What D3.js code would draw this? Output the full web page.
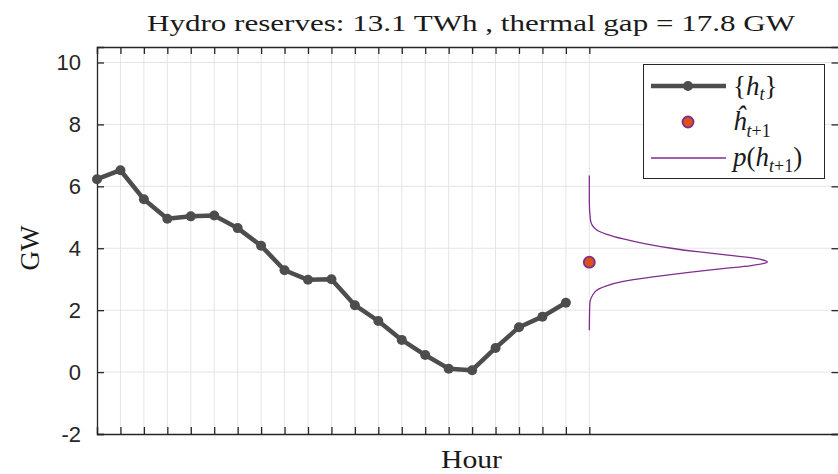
<!DOCTYPE html>
<html lang="en">
<head>
<meta charset="utf-8">
<title>Hydro reserves</title>
<style>
body { margin: 0; background: #fff; }
.grid line { stroke: #e5e5e5; stroke-width: 1px; }
.tick-label { font-family: "Liberation Sans", Arial, sans-serif; font-size: 22px; fill: #262626; }
.serif { font-family: "Liberation Serif", "DejaVu Serif", serif; fill: #1a1a1a; }
</style>
</head>
<body>
<div id="chart"></div>
<script src="https://d3js.org/d3.v7.min.js"></script>
<script>

// series
const hours = d3.range(0, 21);
const hydro = [6.23, 6.52, 5.58, 4.95, 5.03, 5.06, 4.65, 4.08, 3.29, 2.98, 3.0,
               2.16, 1.65, 1.04, 0.55, 0.11, 0.06, 0.78, 1.45, 1.79, 2.24];
const predHour = 21;
const predValue = 3.55;
// density curve: GW level and its horizontal extent (in hours) from the baseline
const densGW  = [6.35, 5.5, 4.9, 4.6, 4.45, 4.3, 4.15, 4.0, 3.88, 3.78, 3.68, 3.6, 3.56,
                 3.52, 3.44, 3.34, 3.22, 3.08, 2.93, 2.78, 2.6, 2.2, 1.35];
const densVal = [0, 0, 0.05, 0.3, 0.75, 1.45, 2.35, 3.5, 4.7, 5.9, 7.0, 7.5, 7.6,
                 7.5, 6.9, 5.7, 4.25, 2.8, 1.45, 0.7, 0.25, 0.02, 0];
const yTicks = [-2, 0, 2, 4, 6, 8, 10];
const xTicks = d3.range(0, 22);

const width = 838, height = 474;
const margin = { top: 47, right: -1, bottom: 40, left: 97 };

const svg = d3.select("#chart").append("svg")
    .attr("width", width).attr("height", height);

const x = d3.scaleLinear().domain([0, 31.65]).range([margin.left, width - margin.right]);
const y = d3.scaleLinear().domain([-2, 10.5]).range([height - margin.bottom, margin.top]);

// grid
const grid = svg.append("g").attr("class", "grid");
grid.selectAll(".gx").data(xTicks.slice(1)).enter().append("line")
    .attr("x1", d => x(d)).attr("x2", d => x(d))
    .attr("y1", y(-2)).attr("y2", y(10.5));
grid.selectAll(".gy").data(yTicks.slice(1)).enter().append("line")
    .attr("x1", x(0)).attr("x2", x(31.65))
    .attr("y1", d => y(d)).attr("y2", d => y(d));

// axes
const axisColor = "#262626";
const axB = svg.append("g").attr("transform", "translate(0," + y(-2) + ")")
    .call(d3.axisBottom(x).tickValues(xTicks).tickSize(-7).tickFormat(""));
const axT = svg.append("g").attr("transform", "translate(0," + y(10.5) + ")")
    .call(d3.axisTop(x).tickValues(xTicks).tickSize(-7).tickFormat(""));
const axL = svg.append("g").attr("transform", "translate(" + x(0) + ",0)")
    .call(d3.axisLeft(y).tickValues(yTicks).tickSize(-7).tickFormat(""));
const axR = svg.append("g").attr("transform", "translate(" + (x(31.65) - 0.5) + ",0)")
    .call(d3.axisRight(y).tickValues(yTicks).tickSize(-7).tickFormat(""));
[axB, axT, axL, axR].forEach(g => {
  g.select(".domain").attr("stroke", axisColor).attr("stroke-width", 1.3);
  g.selectAll(".tick line").attr("stroke", axisColor).attr("stroke-width", 1.3);
});

svg.selectAll(".ylab").data(yTicks).enter().append("text")
    .attr("class", "tick-label")
    .attr("x", 81).attr("y", d => y(d) + 8)
    .attr("text-anchor", "end")
    .text(d => d);

// density
const dens = d3.line()
    .x((d, i) => x(predHour + densVal[i]))
    .y(d => y(d))
    .curve(d3.curveMonotoneY);
svg.append("path").datum(densGW)
    .attr("d", dens)
    .attr("fill", "none")
    .attr("stroke", "#7e2f8e")
    .attr("stroke-width", 1.3);

// series
const line = d3.line().x((d, i) => x(hours[i])).y(d => y(d));
svg.append("path").datum(hydro)
    .attr("d", line)
    .attr("fill", "none")
    .attr("stroke", "#4d4d4d")
    .attr("stroke-width", 4.5)
    .attr("stroke-linejoin", "round");
svg.selectAll(".pt").data(hydro).enter().append("circle")
    .attr("cx", (d, i) => x(hours[i])).attr("cy", d => y(d))
    .attr("r", 5).attr("fill", "#4d4d4d");

svg.append("circle")
    .attr("cx", x(predHour)).attr("cy", y(predValue))
    .attr("r", 5.5).attr("fill", "#d95319")
    .attr("stroke", "#7e2f8e").attr("stroke-width", 1.8);

// labels
svg.append("text").attr("class", "serif")
    .attr("x", 147).attr("y", 31)
    .attr("font-size", 24)
    .attr("textLength", 648).attr("lengthAdjust", "spacingAndGlyphs")
    .text("Hydro reserves: 13.1 TWh , thermal gap = 17.8 GW");
svg.append("text").attr("class", "serif")
    .attr("x", 441).attr("y", 468)
    .attr("font-size", 26)
    .attr("textLength", 61).attr("lengthAdjust", "spacingAndGlyphs")
    .text("Hour");
svg.append("text").attr("class", "serif")
    .attr("transform", "translate(39,248) rotate(-90)")
    .attr("text-anchor", "middle")
    .attr("font-size", 27)
    .text("GW");

// legend
const lg = svg.append("g");
lg.append("rect").attr("x", 643.5).attr("y", 64.5).attr("width", 181).attr("height", 114)
    .attr("fill", "#fff").attr("stroke", "#262626").attr("stroke-width", 1);
lg.append("line").attr("x1", 651).attr("x2", 726).attr("y1", 86).attr("y2", 86)
    .attr("stroke", "#4d4d4d").attr("stroke-width", 4.5);
lg.append("circle").attr("cx", 688).attr("cy", 86).attr("r", 5).attr("fill", "#4d4d4d");
lg.append("circle").attr("cx", 688).attr("cy", 122).attr("r", 5.5).attr("fill", "#d95319")
    .attr("stroke", "#7e2f8e").attr("stroke-width", 1.8);
lg.append("line").attr("x1", 651).attr("x2", 726).attr("y1", 158).attr("y2", 158)
    .attr("stroke", "#7e2f8e").attr("stroke-width", 1.3);

// parts: t = text, it = italic, sz = font size, dy = baseline shift
function mathText(yPos, parts) {
  const t = lg.append("text").attr("class", "serif").attr("x", 733).attr("y", yPos)
      .attr("font-size", 27);
  parts.forEach(p => {
    const s = t.append("tspan").text(p.t);
    if (p.it) s.attr("font-style", "italic");
    if (p.sz) s.attr("font-size", p.sz);
    if (p.dy) s.attr("dy", p.dy);
  });
}
mathText(95, [{ t: "{" }, { t: "h", it: true }, { t: "t", it: true, sz: 18, dy: 5 }, { t: "}", dy: -5 }]);
mathText(130, [{ t: "ĥ", it: true }, { t: "t", it: true, sz: 18, dy: 7 }, { t: "+1", sz: 18 }]);
mathText(166, [{ t: "p", it: true }, { t: "(" }, { t: "h", it: true }, { t: "t", it: true, sz: 18, dy: 6 }, { t: "+1", sz: 18 }, { t: ")", dy: -6 }]);

</script>
</body>
</html>
